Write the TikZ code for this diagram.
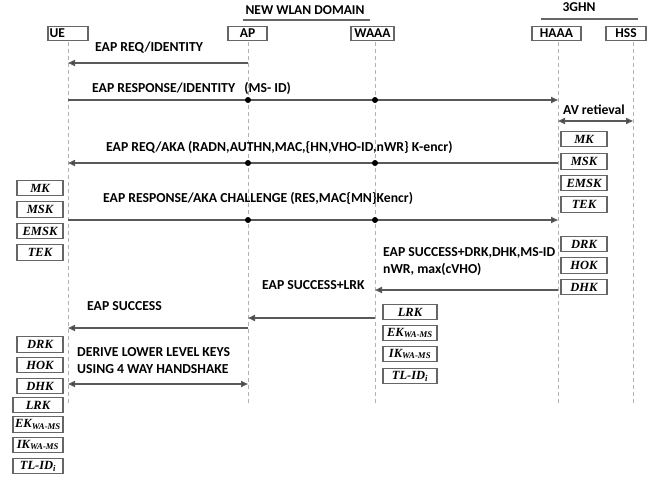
\documentclass[tikz,border=0pt]{standalone}
\usepackage{fontspec}
\setmainfont{Carlito}
\newfontfamily\keyfont{Liberation Serif}
\usetikzlibrary{arrows.meta}
\begin{document}
\begin{tikzpicture}[x=1pt,y=-1pt,
 lbl/.style={font=\fontsize{13.7}{16}\selectfont\bfseries, anchor=west, inner sep=0pt, align=left},
 hdr/.style={font=\fontsize{13.5}{16}\selectfont\bfseries, inner sep=0pt},
 actor/.style={draw=black!60, line width=1.4pt, fill=white, minimum height=14pt, inner sep=0pt, font=\fontsize{13.5}{14}\selectfont\bfseries},
 keybox/.style={draw=black!60, line width=1.3pt, fill=white, minimum width=46pt, minimum height=15.5pt, inner sep=0pt, font=\keyfont\fontsize{12.5}{13}\selectfont\bfseries\itshape},
 life/.style={draw=black!30, line width=0.8pt, dash pattern=on 4pt off 3pt},
 msg/.style={draw=black!65, line width=1.6pt, -{Triangle[length=7pt,width=6pt,fill=black]}},
 dmsg/.style={draw=black!65, line width=1.6pt, {Triangle[length=7pt,width=6pt,fill=black]}-{Triangle[length=7pt,width=6pt,fill=black]}},
 dotm/.style={circle, fill=black, inner sep=0pt, minimum size=6pt},
 uline/.style={draw=black!60, line width=1.6pt}
]
\useasboundingbox (0,0) rectangle (655,485);

% headers
\node[hdr] (hwlan) at (305,10) {NEW WLAN DOMAIN};
\coordinate (uw1) at (243,20); \coordinate (uw2) at (370,20);
\draw[uline] (uw1) -- (uw2);
\node[hdr] (h3g) at (579,7) {3GHN};
\coordinate (ug1) at (541,19); \coordinate (ug2) at (638,19);
\draw[uline] (ug1) -- (ug2);

% actors
\node[actor, minimum width=40pt, text width=37pt, align=left] (ue) at (68,33.5) {UE};
\node[actor, minimum width=39pt] (ap) at (247.5,33.5) {AP};
\node[actor, minimum width=43pt] (waaa) at (372.5,33.5) {WAAA};
\node[actor, minimum width=49pt] (haaa) at (556.5,33.5) {HAAA};
\node[actor, minimum width=40pt] (hss) at (626,33.5) {HSS};

% lifeline ends
\coordinate (ueE) at (68,405);
\coordinate (apE) at (248,405);
\coordinate (waE) at (375,405);
\coordinate (haE) at (558,405);
\coordinate (hsE) at (633,405);
\draw[life] (68,42) -- (ueE);
\draw[life] (248,42) -- (apE);
\draw[life] (375,42) -- (waE);
\draw[life] (558,42) -- (haE);
\draw[life] (633,42) -- (hsE);

% message 1
\node[lbl] (l1) at (95,48) {EAP REQ/IDENTITY};
\coordinate (a1) at (248,63); \coordinate (u1) at (68,63);
\draw[msg] (a1) -- (u1);

% message 2
\node[lbl] (l2) at (92,88) {EAP RESPONSE/IDENTITY\ \ \ (MS- ID)};
\coordinate (u2) at (68,100); \coordinate (h2) at (558,100);
\draw[msg] (u2) -- (h2);
\node[dotm] (d2a) at (248,100) {};
\node[dotm] (d2w) at (375,100) {};

% AV retrieval
\node[lbl] (lav) at (563,110) {AV retieval};
\coordinate (h3) at (558,121); \coordinate (s3) at (633,121);
\draw[dmsg] (h3) -- (s3);

% message 4
\node[lbl] (l4) at (106,147) {EAP REQ/AKA (RADN,AUTHN,MAC,\{HN,VHO-ID,nWR\} K-encr)};
\coordinate (h4) at (558,163); \coordinate (u4) at (68,163);
\draw[msg] (h4) -- (u4);
\node[dotm] (d4a) at (248,163) {};
\node[dotm] (d4w) at (375,163) {};

% message 5
\node[lbl] (l5) at (103,198) {EAP RESPONSE/AKA CHALLENGE (RES,MAC\{MN\}Kencr)};
\coordinate (u5) at (68,220); \coordinate (h5) at (558,220);
\draw[msg] (u5) -- (h5);
\node[dotm] (d5a) at (248,220) {};
\node[dotm] (d5w) at (375,220) {};

% message 6
\node[lbl] (l6) at (383,261.5) {EAP SUCCESS+DRK,DHK,MS-ID\\[1pt]nWR, max(cVHO)};
\coordinate (h6) at (558,290); \coordinate (w6) at (375,290);
\draw[msg] (h6) -- (w6);

% message 7
\node[lbl] (l7) at (262,285) {EAP SUCCESS+LRK};
\coordinate (w7) at (375,318); \coordinate (a7) at (248,318);
\draw[msg] (w7) -- (a7);

% message 8
\node[lbl] (l8) at (87,306) {EAP SUCCESS};
\coordinate (a8) at (248,328); \coordinate (u8) at (68,328);
\draw[msg] (a8) -- (u8);

% message 9
\node[lbl] (l9) at (77,361) {DERIVE LOWER LEVEL KEYS\\[1pt]USING 4 WAY HANDSHAKE};
\coordinate (u9) at (68,384); \coordinate (a9) at (248,384);
\draw[dmsg] (u9) -- (a9);

% right keys
\node[keybox] (rmk) at (584,139) {MK};
\node[keybox] (rmsk) at (584,161.5) {MSK};
\node[keybox] (remsk) at (584,183) {EMSK};
\node[keybox] (rtek) at (584,204.5) {TEK};
\node[keybox] (rdrk) at (584,244) {DRK};
\node[keybox] (rhok) at (584,265.5) {HOK};
\node[keybox] (rdhk) at (584,287) {DHK};

% left keys, first set
\node[keybox] (lmk) at (40,188) {MK};
\node[keybox] (lmsk) at (40,209.5) {MSK};
\node[keybox] (lemsk) at (40,231) {EMSK};
\node[keybox] (ltek) at (40,252.5) {TEK};

% middle keys
\node[keybox, minimum width=54pt] (mlrk) at (410,312) {LRK};
\node[keybox, minimum width=54pt] (mek) at (410,333) {EK\textsubscript{WA-MS}};
\node[keybox, minimum width=54pt] (mik) at (410,354) {IK\textsubscript{WA-MS}};
\node[keybox, minimum width=54pt] (mtl) at (410,376) {TL-ID\textsubscript{i}};

% left keys, second set
\node[keybox] (ldrk) at (40,344.5) {DRK};
\node[keybox] (lhok) at (40,365) {HOK};
\node[keybox] (ldhk) at (40,386) {DHK};
\node[keybox, minimum width=50pt] (llrk) at (38,405) {LRK};
\node[keybox, minimum width=50pt] (lek) at (38,424.5) {EK\textsubscript{WA-MS}};
\node[keybox, minimum width=50pt] (lik) at (38,445) {IK\textsubscript{WA-MS}};
\node[keybox, minimum width=50pt] (ltl) at (38,466) {TL-ID\textsubscript{i}};
\end{tikzpicture}
\end{document}
